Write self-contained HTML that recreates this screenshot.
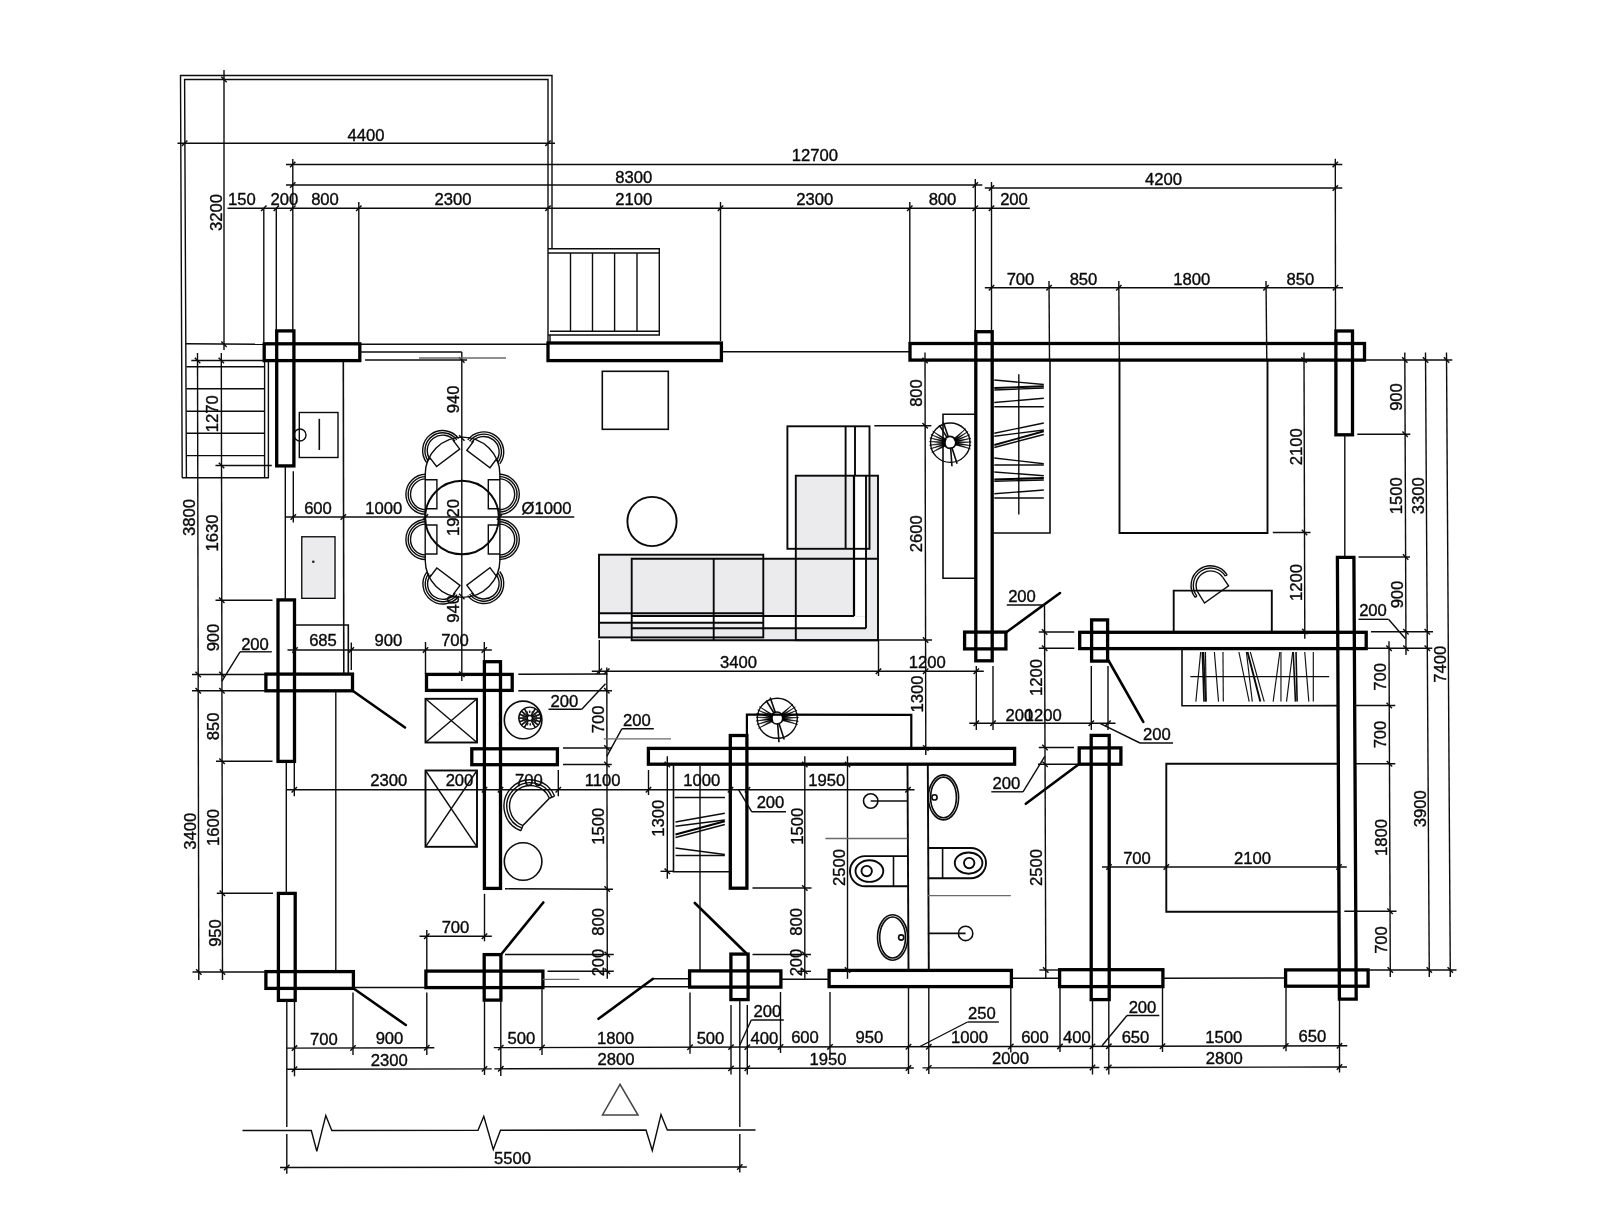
<!DOCTYPE html>
<html><head><meta charset="utf-8"><title>Floor plan</title>
<style>
html,body{margin:0;padding:0;background:#fff;}
body{width:1614px;height:1224px;overflow:hidden;}
svg{display:block;filter:blur(.32px);}
text{font-family:"Liberation Sans",sans-serif;font-size:16.0px;fill:#0a0a0a;text-anchor:middle;stroke:#0a0a0a;stroke-width:.36px;}
path,rect,circle,ellipse{fill:none;stroke-linecap:butt;}
.w{stroke:#000;stroke-width:3.3px;stroke-linejoin:miter;}
.d{stroke:#000;stroke-width:2.6px;stroke-linecap:round;}
.m{stroke:#080808;stroke-width:1.9px;}
.n{stroke:#0c0c0c;stroke-width:1.6px;}
.t{stroke:#0c0c0c;stroke-width:1.4px;}
.h{stroke:#111;stroke-width:1.15px;}
.k{stroke:#0c0c0c;stroke-width:1.45px;}
.g{stroke:#6a6a6a;stroke-width:1.3px;}
.b{stroke:#000;stroke-width:2.2px;}
.fg{fill:#ebebed;stroke:none;}
.fw{fill:#fff;stroke:none;}
.g2{stroke:#444;stroke-width:1.5px;}
.dot{fill:#222;stroke:none;}
.wd{fill:#000;stroke:#000;stroke-width:.5px;}
.rg{stroke:#222;stroke-width:2.4px;stroke-dasharray:1.6 1.2;}
</style></head>
<body>
<svg width="1614" height="1224" viewBox="0 0 1614 1224">
<rect class="fw" x="0" y="0" width="1614" height="1224"/>
<path class="t" d="M182.2 477.8L180.5 75.5L552 75.5L552 248.8"/>
<path class="t" d="M186.4 477.8L184.6 79.5L548 79.5L548 343"/>
<path class="t" d="M185.8 343.8L264 344.3"/>
<path class="t" d="M360 344.3L548 344.3"/>
<path class="n" d="M182 477.8L268.9 477.8"/>
<path class="t" d="M264.6 361L264.6 477.8"/>
<path class="t" d="M268.4 361L268.4 477.8"/>
<path class="t" d="M186.4 366.8L264.6 366.8"/>
<path class="t" d="M186.4 388.8L264.6 388.8"/>
<path class="t" d="M186.4 411.2L264.6 411.2"/>
<path class="t" d="M186.4 433.3L264.6 433.3"/>
<path class="t" d="M186.4 455.6L264.6 455.6"/>
<path class="t" d="M548 248.8L659.3 248.8L659.3 335L548 335"/>
<path class="t" d="M548 253L659.3 253"/>
<path class="t" d="M550 331.2L659.3 331.2"/>
<path class="t" d="M570.5 253L570.5 331.2"/>
<path class="t" d="M592.5 253L592.5 331.2"/>
<path class="t" d="M614.6 253L614.6 331.2"/>
<path class="t" d="M637 253L637 331.2"/>
<path class="t" d="M550 335L550 343"/>
<rect class="w" x="264.2" y="343.8" width="95.6" height="16.8"/>
<rect class="w" x="276.7" y="330.9" width="17.2" height="135"/>
<rect class="w" x="548" y="343" width="173.4" height="17.6"/>
<rect class="w" x="910" y="343.5" width="454.5" height="16.6"/>
<rect class="w" x="975.8" y="331.7" width="16.4" height="329.1"/>
<rect class="w" x="1335.9" y="331" width="16.6" height="103.8"/>
<path class="w" d="M1337.4 557.4L1353.9 557.4L1356.2 999.2L1339.4 999.2Z"/>
<rect class="w" x="1079.7" y="632.3" width="286.5" height="16.3"/>
<rect class="w" x="1091.6" y="619.9" width="16" height="41.2"/>
<rect class="w" x="964.6" y="632.1" width="41.3" height="16.8"/>
<rect class="w" x="278" y="599.9" width="16.5" height="161.5"/>
<rect class="w" x="265.9" y="674.1" width="86.6" height="16.7"/>
<rect class="w" x="278.4" y="893.4" width="16.8" height="107"/>
<rect class="w" x="265.9" y="971.6" width="87.5" height="16.8"/>
<rect class="w" x="426.5" y="674.4" width="85.7" height="16"/>
<rect class="w" x="484.4" y="661.7" width="16.1" height="226.7"/>
<rect class="w" x="471.8" y="748.8" width="85.6" height="15.9"/>
<rect class="w" x="648.4" y="748.4" width="366.2" height="15.8"/>
<rect class="w" x="730.3" y="735.5" width="16.6" height="152.7"/>
<rect class="w" x="1079.2" y="747.9" width="41.7" height="16.3"/>
<rect class="w" x="1091.2" y="735.4" width="18" height="264.2"/>
<rect class="w" x="425.9" y="971.1" width="117" height="16.5"/>
<rect class="w" x="484.2" y="954.6" width="16.7" height="45.5"/>
<rect class="w" x="689.6" y="970.9" width="91.3" height="16.2"/>
<rect class="w" x="730.9" y="954.1" width="17.2" height="45.5"/>
<rect class="w" x="829.1" y="970.4" width="182.3" height="16.2"/>
<rect class="w" x="1059.6" y="969.7" width="103.3" height="16.9"/>
<rect class="w" x="1285.6" y="969.9" width="82.5" height="16.3"/>
<path class="d" d="M353 691L405 727.5"/>
<path class="d" d="M1006.3 632.3L1060 593"/>
<path class="d" d="M1108.5 660.5L1143.3 721.8"/>
<path class="d" d="M1078.8 764.3L1025.8 803.8"/>
<path class="d" d="M353.6 988.5L405.8 1025"/>
<path class="d" d="M501 954.5L543.3 902.5"/>
<path class="d" d="M653 978.8L598.5 1018.8"/>
<path class="d" d="M746.5 953.5L694.8 903"/>
<path class="t" d="M177.5 143.3L555 143.3"/>
<path class="k" d="M181.9 146L187.3 140.6"/>
<path class="k" d="M545.3 146L550.7 140.6"/>
<text transform="translate(366 140.5) scale(1.04 1)">4400</text>
<path class="t" d="M286 164.5L1342.3 164.5"/>
<path class="k" d="M290 167.2L295.4 161.8"/>
<path class="k" d="M1332.6 167.2L1338 161.8"/>
<text transform="translate(814.8 161.3) scale(1.04 1)">12700</text>
<path class="t" d="M286 185L982.3 185"/>
<path class="k" d="M290 187.7L295.4 182.3"/>
<path class="k" d="M972.6 187.7L978 182.3"/>
<text transform="translate(633.8 182.5) scale(1.04 1)">8300</text>
<path class="t" d="M984.8 188L1342.3 188"/>
<path class="k" d="M988.8 190.7L994.2 185.3"/>
<path class="k" d="M1332.6 190.7L1338 185.3"/>
<text transform="translate(1163.5 185) scale(1.04 1)">4200</text>
<path class="t" d="M227.5 208.3L1029.8 208.3"/>
<path class="k" d="M261.1 211L266.5 205.6"/>
<path class="k" d="M273.6 211L279 205.6"/>
<path class="k" d="M290.1 211L295.5 205.6"/>
<path class="k" d="M356.1 211L361.5 205.6"/>
<path class="k" d="M545.3 211L550.7 205.6"/>
<path class="k" d="M717.8 211L723.2 205.6"/>
<path class="k" d="M907.1 211L912.5 205.6"/>
<path class="k" d="M972.6 211L978 205.6"/>
<path class="k" d="M988.8 211L994.2 205.6"/>
<text transform="translate(241.8 205) scale(1.04 1)">150</text>
<text transform="translate(284.3 205) scale(1.04 1)">200</text>
<text transform="translate(325 205) scale(1.04 1)">800</text>
<text transform="translate(453 205) scale(1.04 1)">2300</text>
<text transform="translate(633.8 205) scale(1.04 1)">2100</text>
<text transform="translate(814.8 205) scale(1.04 1)">2300</text>
<text transform="translate(942.5 205) scale(1.04 1)">800</text>
<text transform="translate(1014 205) scale(1.04 1)">200</text>
<path class="t" d="M263.8 208L263.8 342"/>
<path class="t" d="M276.3 208L276.3 331"/>
<path class="t" d="M292.8 159L292.8 331"/>
<path class="t" d="M358.8 202L358.8 343"/>
<path class="t" d="M720.5 202L720.5 341"/>
<path class="t" d="M909.8 202L909.8 343"/>
<path class="t" d="M975.3 179L975.3 331"/>
<path class="t" d="M991.5 182L991.5 331"/>
<path class="t" d="M1335.3 158.8L1335.5 331"/>
<path class="t" d="M224 70L224 350"/>
<path class="k" d="M221.3 76.8L226.7 82.2"/>
<path class="k" d="M221.3 341.6L226.7 347"/>
<text transform="translate(216 212.5) rotate(-90) scale(1.04 1)" y="5.73">3200</text>
<path class="t" d="M984.8 287.8L1343 287.8"/>
<path class="k" d="M988.8 290.5L994.2 285.1"/>
<path class="k" d="M1046.3 290.5L1051.7 285.1"/>
<path class="k" d="M1116.1 290.5L1121.5 285.1"/>
<path class="k" d="M1263.3 290.5L1268.7 285.1"/>
<path class="k" d="M1332.8 290.5L1338.2 285.1"/>
<text transform="translate(1020.5 285) scale(1.04 1)">700</text>
<text transform="translate(1083.5 285) scale(1.04 1)">850</text>
<text transform="translate(1191.8 285) scale(1.04 1)">1800</text>
<text transform="translate(1300.3 285) scale(1.04 1)">850</text>
<path class="t" d="M1049 281L1049.5 361"/>
<path class="t" d="M1118.8 281L1119.3 361"/>
<path class="t" d="M1266 281L1266.8 361"/>
<path class="t" d="M1365 360L1452.3 360"/>
<path class="t" d="M1404.8 352.5L1406 655"/>
<path class="k" d="M1402.13 357.3L1407.53 362.7"/>
<path class="k" d="M1402.42 431.6L1407.82 437"/>
<path class="k" d="M1402.91 554.3L1408.31 559.7"/>
<path class="k" d="M1403.21 629.1L1408.61 634.5"/>
<path class="k" d="M1403.27 645.6L1408.67 651"/>
<path class="t" d="M1425.5 352.5L1429.3 977"/>
<path class="k" d="M1422.85 357.3L1428.25 362.7"/>
<path class="k" d="M1424.5 629.1L1429.9 634.5"/>
<path class="k" d="M1424.6 645.6L1430 651"/>
<path class="k" d="M1426.56 967.3L1431.96 972.7"/>
<path class="t" d="M1446.5 352.5L1450.3 977"/>
<path class="k" d="M1443.85 357.3L1449.25 362.7"/>
<path class="k" d="M1447.56 967.3L1452.96 972.7"/>
<path class="t" d="M1389 641.3L1390.3 977"/>
<path class="k" d="M1386.33 645.6L1391.73 651"/>
<path class="k" d="M1386.55 702.8L1391.95 708.2"/>
<path class="k" d="M1386.77 761.1L1392.17 766.5"/>
<path class="k" d="M1387.35 908.6L1392.75 914"/>
<path class="k" d="M1387.57 967.3L1392.97 972.7"/>
<path class="t" d="M1357.3 434.3L1410.3 434.3"/>
<path class="t" d="M1358.5 557L1410 557"/>
<path class="t" d="M1371 631.8L1433 631.8"/>
<path class="t" d="M1366 648.3L1432.3 648.3"/>
<path class="t" d="M1356 705.5L1395.3 705.5"/>
<path class="t" d="M1356 763.8L1395.3 763.8"/>
<path class="t" d="M1344.3 911.3L1396.5 911.3"/>
<path class="t" d="M1368 970L1456.5 970"/>
<text transform="translate(1396.5 397) rotate(-90) scale(1.04 1)" y="5.73">900</text>
<text transform="translate(1396.5 495.8) rotate(-90) scale(1.04 1)" y="5.73">1500</text>
<text transform="translate(1418 495.8) rotate(-90) scale(1.04 1)" y="5.73">3300</text>
<text transform="translate(1397.3 594.5) rotate(-90) scale(1.04 1)" y="5.73">900</text>
<text transform="translate(1439.8 664.3) rotate(-90) scale(1.04 1)" y="5.73">7400</text>
<text transform="translate(1380.3 676.8) rotate(-90) scale(1.04 1)" y="5.73">700</text>
<text transform="translate(1380.3 734.5) rotate(-90) scale(1.04 1)" y="5.73">700</text>
<text transform="translate(1381.5 837.5) rotate(-90) scale(1.04 1)" y="5.73">1800</text>
<text transform="translate(1419.8 808.8) rotate(-90) scale(1.04 1)" y="5.73">3900</text>
<text transform="translate(1381.5 940) rotate(-90) scale(1.04 1)" y="5.73">700</text>
<text transform="translate(1373 616.3) scale(1.04 1)">200</text>
<path class="t" d="M1358.5 619.3L1388.5 619.3"/>
<path class="t" d="M1388.5 619.3L1405.5 638.8"/>
<path class="t" d="M1344.8 435L1344.8 557"/>
<path class="t" d="M1304 352.5L1304.8 638.8"/>
<path class="k" d="M1301.32 357.3L1306.72 362.7"/>
<path class="k" d="M1301.8 529.8L1307.2 535.2"/>
<path class="k" d="M1302.08 628.8L1307.48 634.2"/>
<path class="t" d="M1272.8 532.5L1310.5 532.5"/>
<text transform="translate(1296 446.8) rotate(-90) scale(1.04 1)" y="5.73">2100</text>
<text transform="translate(1296.5 582.5) rotate(-90) scale(1.04 1)" y="5.73">1200</text>
<path class="t" d="M197.5 353L198.8 980"/>
<path class="k" d="M194.82 357.8L200.22 363.2"/>
<path class="k" d="M195.47 671.8L200.87 677.2"/>
<path class="k" d="M195.5 688.1L200.9 693.5"/>
<path class="k" d="M196.08 969.3L201.48 974.7"/>
<path class="t" d="M221.3 353L222.5 980"/>
<path class="k" d="M218.61 357.8L224.01 363.2"/>
<path class="k" d="M218.82 462.8L224.22 468.2"/>
<path class="k" d="M219.07 597.6L224.47 603"/>
<path class="k" d="M219.22 671.8L224.62 677.2"/>
<path class="k" d="M219.25 688.1L224.65 693.5"/>
<path class="k" d="M219.38 758.6L224.78 764"/>
<path class="k" d="M219.63 890.6L225.03 896"/>
<path class="k" d="M219.78 969.3L225.18 974.7"/>
<path class="t" d="M191.3 360.5L264 360.5"/>
<path class="t" d="M215.5 465.5L271.8 465.5"/>
<path class="t" d="M215.5 600.3L272.5 600.3"/>
<path class="t" d="M192 674.5L265 674.5"/>
<path class="t" d="M192 690.8L265 690.8"/>
<path class="t" d="M216 761.3L272.5 761.3"/>
<path class="t" d="M216.8 893.3L273 893.3"/>
<path class="t" d="M192.5 972L265 972"/>
<text transform="translate(212.5 413.8) rotate(-90) scale(1.04 1)" y="5.73">1270</text>
<text transform="translate(189.3 517.5) rotate(-90) scale(1.04 1)" y="5.73">3800</text>
<text transform="translate(212.5 533) rotate(-90) scale(1.04 1)" y="5.73">1630</text>
<text transform="translate(213 637.5) rotate(-90) scale(1.04 1)" y="5.73">900</text>
<text transform="translate(213 726.3) rotate(-90) scale(1.04 1)" y="5.73">850</text>
<text transform="translate(213 827.5) rotate(-90) scale(1.04 1)" y="5.73">1600</text>
<text transform="translate(190 831.3) rotate(-90) scale(1.04 1)" y="5.73">3400</text>
<text transform="translate(215 933) rotate(-90) scale(1.04 1)" y="5.73">950</text>
<text transform="translate(255 649.5) scale(1.04 1)">200</text>
<path class="t" d="M240 651.8L271.8 651.8"/>
<path class="t" d="M240 651.8L221.8 681.3"/>
<path class="t" d="M285.3 466L285.3 600"/>
<path class="t" d="M293.3 471.3L293.3 522.5"/>
<path class="t" d="M286.3 762L286.3 893"/>
<path class="t" d="M294.3 762L294.3 796.3"/>
<path class="t" d="M285.3 517L574.3 517"/>
<path class="k" d="M290.6 519.7L296 514.3"/>
<path class="k" d="M340.6 519.7L346 514.3"/>
<path class="k" d="M422.8 519.7L428.2 514.3"/>
<path class="k" d="M496.9 519.7L502.3 514.3"/>
<text transform="translate(318 514.3) scale(1.04 1)">600</text>
<text transform="translate(383.8 514.3) scale(1.04 1)">1000</text>
<text transform="translate(546.5 514.3) scale(1.04 1)">Ø1000</text>
<path class="t" d="M461.8 352L461.8 681"/>
<path class="k" d="M459.1 357.3L464.5 362.7"/>
<path class="k" d="M459.1 435.3L464.5 440.7"/>
<path class="k" d="M459.1 593.8L464.5 599.2"/>
<path class="k" d="M459.1 671.5L464.5 676.9"/>
<text transform="translate(453 399.3) rotate(-90) scale(1.04 1)" y="5.73">940</text>
<text transform="translate(453 517.5) rotate(-90) scale(1.04 1)" y="5.73">1920</text>
<text transform="translate(453 608.8) rotate(-90) scale(1.04 1)" y="5.73">940</text>
<path class="t" d="M360 352L461.8 352"/>
<path class="t" d="M365 360L467 360"/>
<path class="g" d="M419 358L506 358"/>
<path class="t" d="M287.5 650L491.8 650"/>
<path class="k" d="M292.3 652.7L297.7 647.3"/>
<path class="k" d="M348.6 652.7L354 647.3"/>
<path class="k" d="M422.8 652.7L428.2 647.3"/>
<path class="k" d="M481.6 652.7L487 647.3"/>
<text transform="translate(323 646.3) scale(1.04 1)">685</text>
<text transform="translate(388.3 646.3) scale(1.04 1)">900</text>
<text transform="translate(455 646.3) scale(1.04 1)">700</text>
<path class="t" d="M351.3 642.5L351.3 670"/>
<path class="t" d="M425.5 642L425.5 674"/>
<path class="t" d="M484.3 642L484.3 661"/>
<path class="t" d="M286 789.8L914.5 789.8"/>
<path class="k" d="M291.6 792.5L297 787.1"/>
<path class="k" d="M481.8 792.5L487.2 787.1"/>
<path class="k" d="M497.8 792.5L503.2 787.1"/>
<path class="k" d="M555.6 792.5L561 787.1"/>
<path class="k" d="M645.8 792.5L651.2 787.1"/>
<path class="k" d="M727.8 792.5L733.2 787.1"/>
<path class="k" d="M744.8 792.5L750.2 787.1"/>
<path class="k" d="M905.3 792.5L910.7 787.1"/>
<text transform="translate(388.8 786.3) scale(1.04 1)">2300</text>
<text transform="translate(459.5 786.3) scale(1.04 1)">200</text>
<text transform="translate(528.8 786.3) scale(1.04 1)">700</text>
<text transform="translate(602.5 786.3) scale(1.04 1)">1100</text>
<text transform="translate(701.8 786.3) scale(1.04 1)">1000</text>
<text transform="translate(826.8 786.3) scale(1.04 1)">1950</text>
<path class="t" d="M558.3 770L558.3 796.3"/>
<path class="t" d="M648.5 770L648.5 795"/>
<path class="t" d="M591.8 671.2L983.8 671.2"/>
<path class="k" d="M596.6 673.9L602 668.5"/>
<path class="k" d="M604.1 673.9L609.5 668.5"/>
<path class="k" d="M875.8 673.9L881.2 668.5"/>
<path class="k" d="M922.9 673.9L928.3 668.5"/>
<path class="k" d="M973.6 673.9L979 668.5"/>
<text transform="translate(738.5 667.5) scale(1.04 1)">3400</text>
<text transform="translate(927.2 667.5) scale(1.04 1)">1200</text>
<path class="t" d="M599.3 640L599.3 674"/>
<path class="t" d="M878.5 640L878.5 676"/>
<path class="t" d="M518.3 674.2L607.5 674"/>
<path class="t" d="M518.3 690.8L612 690.8"/>
<path class="t" d="M606.8 667.5L607.3 978.8"/>
<path class="k" d="M604.14 688.1L609.54 693.5"/>
<path class="k" d="M604.23 745.3L609.63 750.7"/>
<path class="k" d="M604.26 761.8L609.66 767.2"/>
<path class="k" d="M604.46 886.3L609.86 891.7"/>
<path class="k" d="M604.56 951.8L609.96 957.2"/>
<path class="k" d="M604.59 968.6L609.99 974"/>
<path class="t" d="M563 748L611.8 748"/>
<path class="t" d="M563 764.5L611.8 764.5"/>
<path class="t" d="M505 888.8L613 889.3"/>
<path class="t" d="M505 954.5L613.8 954.5"/>
<path class="t" d="M547.5 971.3L613.8 971.3"/>
<text transform="translate(598 719.3) rotate(-90) scale(1.04 1)" y="5.73">700</text>
<text transform="translate(598 826.3) rotate(-90) scale(1.04 1)" y="5.73">1500</text>
<text transform="translate(598 921.8) rotate(-90) scale(1.04 1)" y="5.73">800</text>
<text transform="translate(598 962.5) rotate(-90) scale(1.04 1)" y="5.73">200</text>
<text transform="translate(564.3 706.8) scale(1.04 1)">200</text>
<path class="t" d="M548.5 709.3L581.8 709.3"/>
<path class="t" d="M581.8 709.3L605.5 683.8"/>
<text transform="translate(636.8 726.3) scale(1.04 1)">200</text>
<path class="t" d="M621.8 728.8L653.8 728.8"/>
<path class="t" d="M621.8 728.8L606.8 756.3"/>
<path class="g" d="M603.8 738.8L671 738.8"/>
<path class="t" d="M667.3 756.3L667.3 878.8"/>
<path class="k" d="M664.6 761.8L670 767.2"/>
<path class="k" d="M664.6 868.6L670 874"/>
<path class="t" d="M660.5 871.3L673 871.3"/>
<text transform="translate(658.5 818.3) rotate(-90) scale(1.04 1)" y="5.73">1300</text>
<path class="t" d="M804.8 756.3L804.8 978.8"/>
<path class="k" d="M802.1 761.8L807.5 767.2"/>
<path class="k" d="M802.1 885.3L807.5 890.7"/>
<path class="k" d="M802.1 951.8L807.5 957.2"/>
<path class="k" d="M802.1 968.6L807.5 974"/>
<path class="t" d="M752.5 888L811.5 888"/>
<path class="t" d="M752.5 954.5L811 954.5"/>
<path class="t" d="M798 971.3L811 971.3"/>
<text transform="translate(796.8 826.3) rotate(-90) scale(1.04 1)" y="5.73">1500</text>
<text transform="translate(796.3 921.8) rotate(-90) scale(1.04 1)" y="5.73">800</text>
<text transform="translate(796.3 962.5) rotate(-90) scale(1.04 1)" y="5.73">200</text>
<path class="t" d="M847.5 756.3L847.5 978.8"/>
<path class="k" d="M844.8 761.8L850.2 767.2"/>
<path class="k" d="M844.8 967.3L850.2 972.7"/>
<text transform="translate(839.3 867.5) rotate(-90) scale(1.04 1)" y="5.73">2500</text>
<path class="t" d="M925 352.5L925.8 755"/>
<path class="k" d="M922.32 357.8L927.72 363.2"/>
<path class="k" d="M922.45 423.1L927.85 428.5"/>
<path class="k" d="M922.87 637.3L928.27 642.7"/>
<path class="k" d="M923.09 745.3L928.49 750.7"/>
<path class="t" d="M874.3 425.8L931.3 425.8"/>
<path class="t" d="M878.5 640L932 640"/>
<text transform="translate(916.3 393) rotate(-90) scale(1.04 1)" y="5.73">800</text>
<text transform="translate(916.3 533.8) rotate(-90) scale(1.04 1)" y="5.73">2600</text>
<text transform="translate(917.5 694) rotate(-90) scale(1.04 1)" y="5.73">1300</text>
<path class="t" d="M1044.5 605L1045.8 978.8"/>
<path class="k" d="M1041.89 629.3L1047.29 634.7"/>
<path class="k" d="M1041.95 645.6L1047.35 651"/>
<path class="k" d="M1042.3 744.8L1047.7 750.2"/>
<path class="k" d="M1042.35 761.6L1047.75 767"/>
<path class="k" d="M1043.07 967.3L1048.47 972.7"/>
<path class="t" d="M1038.8 632L1074.3 632"/>
<path class="t" d="M1038.8 648.3L1074.3 648.3"/>
<path class="t" d="M1038.8 747.5L1074 747.5"/>
<path class="t" d="M1038 764.3L1078 764.3"/>
<path class="t" d="M1039.3 970L1059 970"/>
<text transform="translate(1036.3 677.5) rotate(-90) scale(1.04 1)" y="5.73">1200</text>
<text transform="translate(1036.3 867.5) rotate(-90) scale(1.04 1)" y="5.73">2500</text>
<text transform="translate(1022 601.8) scale(1.04 1)">200</text>
<path class="t" d="M1006.8 605L1044.5 605"/>
<text transform="translate(1006.3 788.8) scale(1.04 1)">200</text>
<path class="t" d="M991.3 791.8L1023 791.8"/>
<path class="t" d="M1023 791.8L1044.8 756.3"/>
<text transform="translate(770.5 808.3) scale(1.04 1)">200</text>
<path class="t" d="M751.8 811.8L786 811.8"/>
<path class="t" d="M751.8 811.8L738.5 789.6"/>
<path class="t" d="M969.3 723.3L1115.5 723.3"/>
<path class="k" d="M973.6 726L979 720.6"/>
<path class="k" d="M990.3 726L995.7 720.6"/>
<path class="k" d="M1088.6 726L1094 720.6"/>
<path class="k" d="M1105.3 726L1110.7 720.6"/>
<path class="t" d="M976.3 666L976.3 730"/>
<path class="t" d="M993 666L993 730"/>
<path class="t" d="M1091.3 666L1091.3 730"/>
<path class="t" d="M1108 666L1108 730"/>
<text transform="translate(1019.3 720.8) scale(1.04 1)">200</text>
<text transform="translate(1043.3 720.8) scale(1.04 1)">1200</text>
<text transform="translate(1156.8 739.5) scale(1.04 1)">200</text>
<path class="t" d="M1140 743L1173 743"/>
<path class="t" d="M1140 743L1100 723.3"/>
<path class="t" d="M1102 867L1346.8 867"/>
<path class="k" d="M1106.3 869.7L1111.7 864.3"/>
<path class="k" d="M1163.6 869.7L1169 864.3"/>
<path class="k" d="M1336.3 869.7L1341.7 864.3"/>
<text transform="translate(1137 863.8) scale(1.04 1)">700</text>
<text transform="translate(1252.5 863.8) scale(1.04 1)">2100</text>
<path class="t" d="M419.5 936.3L491.8 936.3"/>
<path class="k" d="M424.1 939L429.5 933.6"/>
<path class="k" d="M481.8 939L487.2 933.6"/>
<path class="t" d="M426.8 930L426.8 970"/>
<path class="t" d="M484.5 893.8L484.5 941.3"/>
<text transform="translate(455.5 932.5) scale(1.04 1)">700</text>
<path class="t" d="M286.8 1048.1L434.3 1047.78"/>
<path class="t" d="M493.8 1047.65L1347.3 1045.8"/>
<path class="k" d="M291.8 1050.78L297.2 1045.38"/>
<path class="k" d="M350.3 1050.65L355.7 1045.25"/>
<path class="k" d="M424.1 1050.49L429.5 1045.09"/>
<path class="k" d="M498.1 1050.33L503.5 1044.93"/>
<path class="k" d="M539.3 1050.25L544.7 1044.85"/>
<path class="k" d="M687.3 1049.92L692.7 1044.52"/>
<path class="k" d="M728.3 1049.84L733.7 1044.44"/>
<path class="k" d="M744.6 1049.8L750 1044.4"/>
<path class="k" d="M777.8 1049.73L783.2 1044.33"/>
<path class="k" d="M827.3 1049.62L832.7 1044.22"/>
<path class="k" d="M905.8 1049.45L911.2 1044.05"/>
<path class="k" d="M926.1 1049.41L931.5 1044.01"/>
<path class="k" d="M1008.1 1049.23L1013.5 1043.83"/>
<path class="k" d="M1057.3 1049.12L1062.7 1043.72"/>
<path class="k" d="M1089.8 1049.05L1095.2 1043.65"/>
<path class="k" d="M1106.1 1049.02L1111.5 1043.62"/>
<path class="k" d="M1159.8 1048.9L1165.2 1043.5"/>
<path class="k" d="M1283.1 1048.63L1288.5 1043.23"/>
<path class="k" d="M1336.8 1048.52L1342.2 1043.12"/>
<path class="t" d="M286.8 1069.3L491.8 1068.85"/>
<path class="t" d="M494.3 1068.85L913.8 1067.94"/>
<path class="t" d="M922.5 1067.92L1099.3 1067.54"/>
<path class="t" d="M1103.8 1067.53L1347 1067"/>
<path class="k" d="M291.8 1071.98L297.2 1066.58"/>
<path class="k" d="M481.8 1071.57L487.2 1066.17"/>
<path class="k" d="M498.1 1071.53L503.5 1066.13"/>
<path class="k" d="M728.3 1071.04L733.7 1065.64"/>
<path class="k" d="M744.6 1071L750 1065.6"/>
<path class="k" d="M905.8 1070.65L911.2 1065.25"/>
<path class="k" d="M926.1 1070.61L931.5 1065.21"/>
<path class="k" d="M1089.8 1070.25L1095.2 1064.85"/>
<path class="k" d="M1106.1 1070.22L1111.5 1064.82"/>
<path class="k" d="M1336.8 1069.72L1342.2 1064.32"/>
<path class="t" d="M294.5 1000L294.5 1076.3"/>
<path class="t" d="M353 992.5L353 1055"/>
<path class="t" d="M426.8 992.5L426.8 1055"/>
<path class="t" d="M484.5 1000L484.5 1075"/>
<path class="t" d="M500.8 1000L500.8 1076"/>
<path class="t" d="M542 988L542 1055"/>
<path class="t" d="M690 992.5L690 1053.8"/>
<path class="t" d="M731 1005L731 1074.5"/>
<path class="t" d="M747.3 1005L747.3 1074.5"/>
<path class="t" d="M780.5 992L780.5 1053"/>
<path class="t" d="M830 992L830 1053"/>
<path class="t" d="M908.5 987L908.5 1074"/>
<path class="t" d="M928.8 987L928.8 1074"/>
<path class="t" d="M1010.8 987L1010.8 1052.5"/>
<path class="t" d="M1060 987L1060 1052"/>
<path class="t" d="M1092.5 1000L1092.5 1074.5"/>
<path class="t" d="M1108.8 1000L1108.8 1074.5"/>
<path class="t" d="M1162.5 987L1162.5 1052"/>
<path class="t" d="M1286 986L1286 1051.3"/>
<path class="t" d="M1339.5 1000L1339.5 1072.5"/>
<path class="t" d="M286.8 1000L286.8 1127"/>
<path class="t" d="M286.8 1134L286.8 1173.8"/>
<path class="t" d="M739.8 1000L739.8 1127"/>
<path class="t" d="M739.8 1134L739.8 1172.5"/>
<text transform="translate(323.8 1044.52) scale(1.04 1)">700</text>
<text transform="translate(389.5 1044.38) scale(1.04 1)">900</text>
<text transform="translate(521.3 1044.09) scale(1.04 1)">500</text>
<text transform="translate(615.5 1043.89) scale(1.04 1)">1800</text>
<text transform="translate(710.5 1043.68) scale(1.04 1)">500</text>
<text transform="translate(764.3 1043.56) scale(1.04 1)">400</text>
<text transform="translate(805 1043.47) scale(1.04 1)">600</text>
<text transform="translate(869.3 1043.34) scale(1.04 1)">950</text>
<text transform="translate(969.5 1043.12) scale(1.04 1)">1000</text>
<text transform="translate(1035 1042.98) scale(1.04 1)">600</text>
<text transform="translate(1076.8 1042.89) scale(1.04 1)">400</text>
<text transform="translate(1135.5 1042.76) scale(1.04 1)">650</text>
<text transform="translate(1223.8 1042.57) scale(1.04 1)">1500</text>
<text transform="translate(1312.3 1042.38) scale(1.04 1)">650</text>
<text transform="translate(389.3 1065.68) scale(1.04 1)">2300</text>
<text transform="translate(616 1065.18) scale(1.04 1)">2800</text>
<text transform="translate(828 1064.73) scale(1.04 1)">1950</text>
<text transform="translate(1010.5 1064.33) scale(1.04 1)">2000</text>
<text transform="translate(1224.3 1063.87) scale(1.04 1)">2800</text>
<text transform="translate(767.3 1016.8) scale(1.04 1)">200</text>
<path class="t" d="M751.3 1020L783.8 1020"/>
<path class="t" d="M751.3 1020L739.8 1045"/>
<text transform="translate(981.8 1019.3) scale(1.04 1)">250</text>
<path class="t" d="M967.5 1022L998.8 1022"/>
<path class="t" d="M967.5 1022L920 1046.5"/>
<text transform="translate(1142.5 1013) scale(1.04 1)">200</text>
<path class="t" d="M1127 1015.5L1159.3 1015.5"/>
<path class="t" d="M1127 1015.5L1102 1045.8"/>
<path class="t" d="M280 1167.5L746.8 1167"/>
<path class="k" d="M284.1 1170.19L289.5 1164.79"/>
<path class="k" d="M737.1 1169.71L742.5 1164.31"/>
<text transform="translate(512.5 1164) scale(1.04 1)">5500</text>
<path class="t" d="M242.5 1130.5L311.3 1130.5L316.8 1151.3L325.8 1115.5L331.8 1130.5L478 1130.3L483.8 1116.3L493.3 1149.5L500.5 1130.3L646 1130L652.3 1150.5L661 1114.5L667.3 1130L755.5 1130"/>
<path class="g2" d="M620 1084.3L602.5 1115L638 1115Z"/>
<path class="t" d="M335.8 691L335.8 971"/>
<path class="t" d="M353 987.5L425.5 987.5"/>
<path class="t" d="M543 986.8L689.3 986.8"/>
<path class="t" d="M653 978.8L689 978.8"/>
<path class="g" d="M543 979.3L579.3 979.3"/>
<path class="t" d="M781 979.3L828.8 979.3"/>
<path class="t" d="M1011.8 978.3L1059.3 978.3"/>
<path class="t" d="M1163 978.3L1285 978"/>
<path class="t" d="M722 351.8L909 351.8"/>
<path class="t" d="M700 766L700 970"/>
<path class="n" d="M343.3 361L343.8 674"/>
<path class="n" d="M295 625L348.3 625L348.3 674"/>
<rect class="t" x="299.3" y="412.5" width="38.7" height="45"/>
<circle class="t" cx="300" cy="435" r="6"/>
<path class="n" d="M319.3 418.8L319.3 450"/>
<rect class="fg" x="303.2" y="538.2" width="30.4" height="58.6"/>
<rect class="t" x="301.8" y="536.8" width="33.2" height="61.5"/>
<circle class="dot" cx="313.3" cy="561.8" r="1.3"/>
<path class="t" d="M425.2 474.5A37.35 37.35 0 0 1 499.9 474.5L499.9 560A37.35 37.35 0 0 1 425.2 560Z"/>
<circle class="m" cx="462" cy="517.5" r="36.8"/>
<g transform="translate(425.4 494.3) rotate(-90)">
<path class="t" d="M-14.5 0L-14.5 11.5L14.5 11.5L14.5 0"/>
<path class="t" d="M-20 0.5A20 20 0 0 1 20 0.5"/>
<path class="t" d="M-17.7 0.5A17.7 17.7 0 0 1 17.7 0.5"/>
<path class="t" d="M-15.4 0.5A15.4 15.4 0 0 1 15.4 0.5"/>
</g>
<g transform="translate(425.4 539.5) rotate(-90)">
<path class="t" d="M-14.5 0L-14.5 11.5L14.5 11.5L14.5 0"/>
<path class="t" d="M-20 0.5A20 20 0 0 1 20 0.5"/>
<path class="t" d="M-17.7 0.5A17.7 17.7 0 0 1 17.7 0.5"/>
<path class="t" d="M-15.4 0.5A15.4 15.4 0 0 1 15.4 0.5"/>
</g>
<g transform="translate(499.8 494.3) rotate(90)">
<path class="t" d="M-14.5 0L-14.5 11.5L14.5 11.5L14.5 0"/>
<path class="t" d="M-20 0.5A20 20 0 0 1 20 0.5"/>
<path class="t" d="M-17.7 0.5A17.7 17.7 0 0 1 17.7 0.5"/>
<path class="t" d="M-15.4 0.5A15.4 15.4 0 0 1 15.4 0.5"/>
</g>
<g transform="translate(499.8 539.5) rotate(90)">
<path class="t" d="M-14.5 0L-14.5 11.5L14.5 11.5L14.5 0"/>
<path class="t" d="M-20 0.5A20 20 0 0 1 20 0.5"/>
<path class="t" d="M-17.7 0.5A17.7 17.7 0 0 1 17.7 0.5"/>
<path class="t" d="M-15.4 0.5A15.4 15.4 0 0 1 15.4 0.5"/>
</g>
<g transform="translate(441.2 448.6) rotate(-37)">
<path class="t" d="M-14.5 0L-14.5 11.5L14.5 11.5L14.5 0"/>
<path class="t" d="M-20 2.4A20 20 0 0 1 20 2.4"/>
<path class="t" d="M-17.7 2.4A17.7 17.7 0 0 1 17.7 2.4"/>
<path class="t" d="M-15.4 2.4A15.4 15.4 0 0 1 15.4 2.4"/>
</g>
<g transform="translate(485.3 449.8) rotate(37)">
<path class="t" d="M-14.5 0L-14.5 11.5L14.5 11.5L14.5 0"/>
<path class="t" d="M-20 2.6A20 20 0 0 1 20 2.6"/>
<path class="t" d="M-17.7 2.6A17.7 17.7 0 0 1 17.7 2.6"/>
<path class="t" d="M-15.4 2.6A15.4 15.4 0 0 1 15.4 2.6"/>
</g>
<g transform="translate(441.5 585.9) rotate(-143)">
<path class="t" d="M-14.5 0L-14.5 11.5L14.5 11.5L14.5 0"/>
<path class="t" d="M-20 2.4A20 20 0 0 1 20 2.4"/>
<path class="t" d="M-17.7 2.4A17.7 17.7 0 0 1 17.7 2.4"/>
<path class="t" d="M-15.4 2.4A15.4 15.4 0 0 1 15.4 2.4"/>
</g>
<g transform="translate(485.3 585.6) rotate(143)">
<path class="t" d="M-14.5 0L-14.5 11.5L14.5 11.5L14.5 0"/>
<path class="t" d="M-20 2.6A20 20 0 0 1 20 2.6"/>
<path class="t" d="M-17.7 2.6A17.7 17.7 0 0 1 17.7 2.6"/>
<path class="t" d="M-15.4 2.6A15.4 15.4 0 0 1 15.4 2.6"/>
</g>
<rect class="n" x="602.3" y="371.3" width="66" height="58"/>
<circle class="m" cx="652" cy="521.5" r="24.6"/>
<rect class="fg" x="599" y="554.7" width="164.3" height="82.7"/>
<rect class="fg" x="631.7" y="558.8" width="246.3" height="81.4"/>
<rect class="fg" x="795.8" y="475.7" width="82.2" height="164.5"/>
<rect class="fw" x="855" y="476.5" width="10.3" height="139.5"/>
<rect class="fw" x="763.5" y="617" width="101.8" height="10.5"/>
<rect class="fw" x="599.8" y="614.2" width="31.2" height="7.8"/>
<rect class="fw" x="632.5" y="617" width="130.5" height="5"/>
<rect class="m" x="787.4" y="426.3" width="82.1" height="122.5"/>
<path class="m" d="M845.6 426.3L845.6 548.8"/>
<path class="m" d="M855 426.3L855 475.7"/>
<rect class="m" x="795.8" y="475.7" width="82.2" height="164.5"/>
<path class="b" d="M854 475.7L854 616"/>
<path class="m" d="M866 475.7L866 628.3"/>
<rect class="m" x="599" y="554.7" width="164.3" height="82.7"/>
<path class="m" d="M878 558.8L631.7 558.8L631.7 640.2L878 640.2"/>
<path class="m" d="M713.7 558.8L713.7 640.2"/>
<path class="m" d="M599 613.3L763.3 613.3"/>
<path class="m" d="M631.7 616L854 616"/>
<path class="m" d="M599 622.7L763.3 622.7"/>
<path class="m" d="M631.7 628.3L866 628.3"/>
<path class="n" d="M975.5 414.3L943 414.3L943 578.3L975.5 578.3"/>
<circle class="t" cx="950.3" cy="442.7" r="19.7"/>
<circle class="n" cx="950" cy="442.4" r="6"/>
<path class="wd" d="M946.23 445.77L945.48 444.36L931.69 452.6Z"/>
<path class="wd" d="M945.72 444.94L945.25 443.41L930.14 448.86Z"/>
<path class="wd" d="M945.4 444.11L945.2 442.52L929.38 445.27Z"/>
<path class="wd" d="M945.23 443.23L945.31 441.64L929.25 441.6Z"/>
<path class="wd" d="M945.21 442.34L945.57 440.79L929.76 437.96Z"/>
<path class="wd" d="M945.35 441.47L945.97 440L930.9 434.46Z"/>
<path class="wd" d="M945.64 440.63L946.51 439.29L932.62 431.22Z"/>
<path class="wd" d="M953.51 438.74L954.58 439.92L965.96 428.6Z"/>
<path class="wd" d="M954.15 439.35L954.99 440.71L968.18 431.53Z"/>
<path class="wd" d="M954.67 440.07L955.27 441.55L969.84 434.8Z"/>
<path class="wd" d="M955.06 440.87L955.39 442.43L970.92 438.32Z"/>
<path class="wd" d="M955.31 441.73L955.36 443.32L971.37 441.96Z"/>
<path class="wd" d="M955.4 442.61L955.18 444.19L971.17 445.63Z"/>
<path class="wd" d="M955.35 443.41L954.88 444.94L970.46 448.86Z"/>
<path class="n" d="M950.63 447.49L951.95 466.28"/>
<path class="n" d="M951.78 447.27L957.12 463.68"/>
<path class="n" d="M948.35 437.03L943.24 422.21"/>
<path class="n" d="M947.12 437.61L939.34 425.16"/>
<circle class="t" cx="777.3" cy="718.3" r="20"/>
<circle class="n" cx="777" cy="718" r="6"/>
<path class="wd" d="M773.23 721.37L772.48 719.96L758.4 728.35Z"/>
<path class="wd" d="M772.72 720.54L772.25 719.01L756.84 724.56Z"/>
<path class="wd" d="M772.4 719.71L772.2 718.12L756.06 720.91Z"/>
<path class="wd" d="M772.23 718.83L772.31 717.24L755.93 717.18Z"/>
<path class="wd" d="M772.21 717.94L772.57 716.39L756.45 713.49Z"/>
<path class="wd" d="M772.35 717.07L772.97 715.6L757.6 709.94Z"/>
<path class="wd" d="M772.64 716.23L773.51 714.89L759.35 706.64Z"/>
<path class="wd" d="M780.51 714.34L781.58 715.52L793.2 703.98Z"/>
<path class="wd" d="M781.15 714.95L781.99 716.31L795.45 706.96Z"/>
<path class="wd" d="M781.67 715.67L782.27 717.15L797.14 710.28Z"/>
<path class="wd" d="M782.06 716.47L782.39 718.03L798.23 713.85Z"/>
<path class="wd" d="M782.31 717.33L782.36 718.92L798.69 717.55Z"/>
<path class="wd" d="M782.4 718.21L782.18 719.79L798.49 721.28Z"/>
<path class="wd" d="M782.35 719.01L781.88 720.54L797.76 724.56Z"/>
<path class="n" d="M777.63 723.09L778.97 742.24"/>
<path class="n" d="M778.78 722.87L784.22 739.6"/>
<path class="n" d="M775.35 712.63L770.14 697.5"/>
<path class="n" d="M774.12 713.21L766.17 700.49"/>
<path class="n" d="M1050 361L1050 533L993 533"/>
<path class="t" d="M1018.8 374.3L1018.8 514.5"/>
<path class="t" d="M994.3 380L1043.8 384.5"/>
<path class="m" d="M994.3 388L1043.8 386.25"/>
<path class="t" d="M994.3 390L1043.8 388"/>
<path class="t" d="M994.3 402.5L1043.8 398.25"/>
<path class="t" d="M994.3 406.75L1043.8 406.75"/>
<path class="t" d="M994.3 433.25L1043.8 423"/>
<path class="t" d="M994.3 436.25L1043.8 430"/>
<path class="m" d="M994.3 445L1043.8 431.25"/>
<path class="t" d="M994.3 447.5L1043.8 434.5"/>
<path class="t" d="M994.3 458L1043.8 463.75"/>
<path class="t" d="M994.3 465L1043.8 465"/>
<path class="t" d="M994.3 472L1043.8 475.75"/>
<path class="b" d="M994.3 479.5L1043.8 478"/>
<path class="t" d="M994.3 481.25L1043.8 480"/>
<path class="t" d="M994.3 493.75L1043.8 490"/>
<path class="t" d="M994.3 498L1043.8 498"/>
<path class="m" d="M1119.5 361L1119.5 533L1267.5 533L1267.5 361"/>
<path class="m" d="M1173.7 631L1173.7 590.6L1271.8 590.6L1271.8 631"/>
<path class="t" d="M1195.13 597.4A19.6 19.6 0 1 1 1227.14 574.83"/>
<path class="t" d="M1196.88 596.07A17.4 17.4 0 1 1 1225.29 576.02"/>
<path class="t" d="M1197.47 591.67A14.6 14.6 0 0 1 1222.8 577.34"/>
<path class="t" d="M1195.13 597.4L1196.88 596.07"/>
<path class="t" d="M1227.14 574.83L1225.29 576.02"/>
<path class="t" d="M1197.5 591.7L1204.5 603.1L1228.6 585.9L1222.8 577.3"/>
<path class="n" d="M1182 648L1182 705.8L1338 705.6"/>
<path class="t" d="M1190.3 676.6L1329.2 676.6"/>
<path class="h" d="M1200.67 652L1195.87 701.6"/>
<path class="n" d="M1202.34 652L1204.01 701.6"/>
<path class="n" d="M1203.46 652L1205.69 701.6"/>
<path class="h" d="M1205.46 652L1206.24 701.6"/>
<path class="h" d="M1214.38 652L1218.51 701.6"/>
<path class="h" d="M1222.97 652L1223.31 701.6"/>
<path class="h" d="M1238.92 652L1249.18 701.6"/>
<path class="h" d="M1246.39 652L1252.3 701.6"/>
<path class="m" d="M1247.51 652L1260.33 701.6"/>
<path class="h" d="M1250.29 652L1264.23 701.6"/>
<path class="h" d="M1279.85 652L1273.16 701.6"/>
<path class="h" d="M1280.96 652L1280.96 701.6"/>
<path class="h" d="M1292.67 652L1286.54 701.6"/>
<path class="n" d="M1293.23 652L1295.46 701.6"/>
<path class="n" d="M1296.02 652L1297.13 701.6"/>
<path class="h" d="M1304.72 652L1308.84 701.6"/>
<path class="h" d="M1313.3 652L1313.3 701.6"/>
<path class="m" d="M1339 763.8L1166.3 763.8L1166.3 911.8L1339 911.8"/>
<rect class="m" x="425.5" y="698.8" width="51.5" height="43.7"/>
<path class="t" d="M425.5 698.8L477 742.5"/>
<path class="t" d="M477 698.8L425.5 742.5"/>
<rect class="m" x="425.5" y="770.5" width="51.5" height="76.3"/>
<path class="t" d="M425.5 770.5L477 846.8"/>
<path class="t" d="M477 770.5L425.5 846.8"/>
<circle class="n" cx="523.1" cy="719.9" r="18.8"/>
<circle class="n" cx="523.1" cy="861.5" r="18.8"/>
<circle class="t" cx="529.8" cy="718.1" r="11"/>
<circle class="t" cx="529.8" cy="718.1" r="2.6"/>
<path class="n" d="M532.8 718.1L540.8 718.1"/>
<path class="n" d="M532.62 719.13L540.14 721.86"/>
<path class="n" d="M532.1 720.03L538.23 725.17"/>
<path class="n" d="M531.3 720.7L535.3 727.63"/>
<path class="n" d="M528.3 720.7L524.3 727.63"/>
<path class="n" d="M527.5 720.03L521.37 725.17"/>
<path class="n" d="M526.98 719.13L519.46 721.86"/>
<path class="n" d="M526.8 718.1L518.8 718.1"/>
<path class="n" d="M526.98 717.07L519.46 714.34"/>
<path class="n" d="M527.5 716.17L521.37 711.03"/>
<path class="n" d="M528.3 715.5L524.3 708.57"/>
<path class="n" d="M531.3 715.5L535.3 708.57"/>
<path class="n" d="M532.1 716.17L538.23 711.03"/>
<path class="n" d="M532.62 717.07L540.14 714.34"/>
<circle class="rg" cx="529.8" cy="718.1" r="6.3"/>
<path class="t" d="M520.87 830.75A26.3 26.3 0 1 1 554.58 796.09"/>
<path class="t" d="M521.88 828.14A23.5 23.5 0 1 1 552 797.17"/>
<path class="t" d="M522.88 825.53A20.7 20.7 0 1 1 549.41 798.25"/>
<path class="n" d="M522.88 825.53L549.41 798.25"/>
<path class="t" d="M520.87 830.75L522.88 825.53"/>
<path class="t" d="M554.58 796.09L549.41 798.25"/>
<path class="n" d="M673.5 765L673.5 871.8L730 871.8"/>
<path class="t" d="M674.8 797.5L725 797.5"/>
<path class="t" d="M675.5 822L724.8 813.25"/>
<path class="t" d="M675.5 826.25L724.8 820"/>
<path class="b" d="M675.5 834.5L724.8 821.25"/>
<path class="t" d="M675.5 837.5L724.8 824.5"/>
<path class="t" d="M675.5 848L724.8 854.5"/>
<path class="t" d="M675.5 855.5L724.8 855.5"/>
<path class="b" d="M746.9 735L746.9 714.6L911.3 714.8L911.3 748"/>
<path class="m" d="M907.5 765L908.5 970"/>
<path class="m" d="M927.8 765L928.8 970"/>
<circle class="n" cx="870.7" cy="801" r="7.2"/>
<path class="n" d="M870.7 801L907.5 801"/>
<ellipse class="n" cx="943.5" cy="797.4" rx="15.1" ry="22.5"/>
<ellipse class="n" cx="943.5" cy="797.4" rx="12.9" ry="20.3"/>
<circle class="n" cx="934.5" cy="797.4" r="2.6"/>
<path class="g" d="M825.4 838.5L907.5 838.5"/>
<path class="m" d="M907.5 856.1L865.1 856.1A15.1 15.1 0 0 0 865.1 886.3L907.5 886.3"/>
<path class="n" d="M893.5 856.1L893.5 886.3"/>
<ellipse class="m" cx="869.4" cy="871.1" rx="13.9" ry="10.8"/>
<circle class="m" cx="866.7" cy="871.1" r="5.2"/>
<path class="m" d="M927.8 848L970.9 848A15.1 15.1 0 0 1 970.9 878.2L927.8 878.2"/>
<path class="n" d="M942.6 848L942.6 878.2"/>
<ellipse class="m" cx="968.6" cy="863.1" rx="13.8" ry="10.6"/>
<circle class="m" cx="969.2" cy="863.1" r="5.2"/>
<path class="g" d="M927.8 895.7L1010.8 895.7"/>
<circle class="n" cx="965.6" cy="933.4" r="7.2"/>
<path class="n" d="M927.8 933.4L965.6 933.4"/>
<ellipse class="n" cx="892.6" cy="937.5" rx="15.1" ry="22.7"/>
<ellipse class="n" cx="892.6" cy="937.5" rx="12.9" ry="20.5"/>
<circle class="n" cx="901.2" cy="937.5" r="2.6"/>
</svg>
</body></html>
